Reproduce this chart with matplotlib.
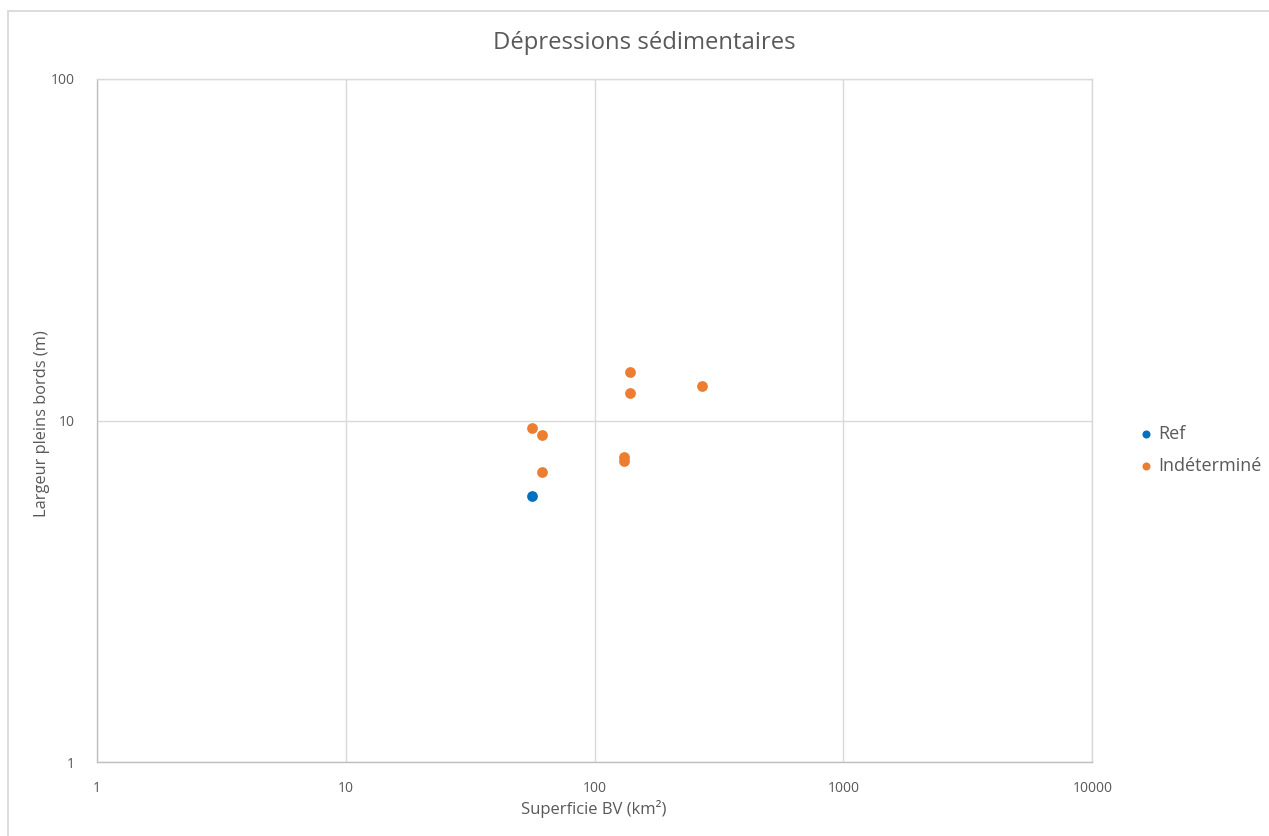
import matplotlib
matplotlib.use("Agg")
import matplotlib.pyplot as plt
from matplotlib.patches import Rectangle
from matplotlib.ticker import FixedLocator, FixedFormatter, NullLocator

plt.rcParams['font.family'] = ['Open Sans', 'DejaVu Sans']

title = "Dépressions sédimentaires"
xlabel = "Superficie BV (km²)"
ylabel = "Largeur pleins bords (m)"

ref_x = [56]
ref_y = [6.0]
ind_x = [139.5, 139.5, 270, 56, 61.4, 131.6, 131.6, 61.4]
ind_y = [13.9, 12.05, 12.6, 9.52, 9.08, 7.83, 7.63, 7.05]

xticks = [1, 10, 100, 1000, 10000]
xticklabels = ["1", "10", "100", "1000", "10000"]
yticks = [1, 10, 100]
yticklabels = ["1", "10", "100"]

blue = "#0070C0"
orange = "#ED7D31"
text_c = "#595959"
grid_c = "#D9D9D9"

W, H = 1269, 836
fig = plt.figure(figsize=(W / 100, H / 100), dpi=100)
fig.patch.set_facecolor("white")

# outer chart border
fig.add_artist(Rectangle((7.5 / W, -0.05), 1.1, 1 - 10.5 / H + 0.05,
                         transform=fig.transFigure, fill=False,
                         edgecolor=grid_c, linewidth=1.3))

left, right, top, bottom = 96.7, 1092.3, 79, 762
ax = fig.add_axes([left / W, 1 - bottom / H, (right - left) / W, (bottom - top) / H])
ax.set_xscale("log")
ax.set_yscale("log")
ax.set_xlim(1, 10000)
ax.set_ylim(1, 100)

ax.xaxis.set_major_locator(FixedLocator(xticks))
ax.xaxis.set_major_formatter(FixedFormatter(xticklabels))
ax.yaxis.set_major_locator(FixedLocator(yticks))
ax.yaxis.set_major_formatter(FixedFormatter(yticklabels))
ax.xaxis.set_minor_locator(NullLocator())
ax.yaxis.set_minor_locator(NullLocator())

ax.grid(True, color=grid_c, linewidth=1.0)
ax.set_axisbelow(True)
for s in ax.spines.values():
    s.set_color(grid_c)
    s.set_linewidth(1.0)
ax.spines['bottom'].set_color("#BFBFBF")
ax.spines['left'].set_color("#BFBFBF")
ax.tick_params(length=0, labelsize=10, colors=text_c, pad=14)
ax.tick_params(axis='y', pad=16)

ax.scatter(ref_x, ref_y, s=60, color=blue, label="Ref", zorder=3, linewidths=0)
ax.scatter(ind_x, ind_y, s=60, color=orange, label="Indéterminé", zorder=3, linewidths=0)

fig.text(644 / W, 1 - 43 / H, title, ha="center", va="center",
         fontsize=17.2, color=text_c)
fig.text(594 / W, 1 - 809 / H, xlabel, ha="center", va="center",
         fontsize=12, color=text_c)
fig.text(42 / W, 1 - 424 / H, ylabel, ha="center", va="center", rotation=90,
         fontsize=11.8, color=text_c)

leg = fig.legend(loc="center left", bbox_to_anchor=(1140 / W, 1 - 450 / H),
                 frameon=False, fontsize=13, labelcolor=text_c,
                 handlelength=0.7, handletextpad=0.3, labelspacing=0.75,
                 markerscale=0.75, borderaxespad=0, borderpad=0)

fig.savefig("out.png", dpi=100)
